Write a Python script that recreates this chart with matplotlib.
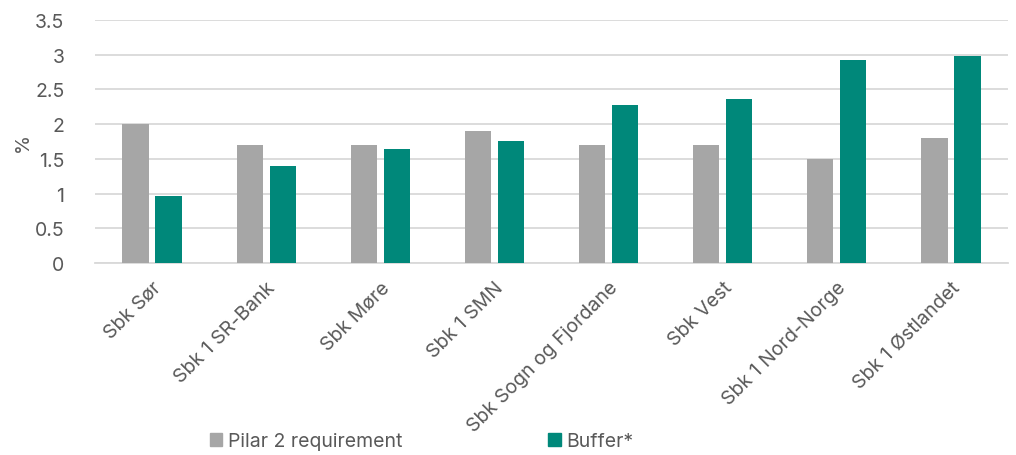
import numpy as np
import matplotlib.pyplot as plt
from matplotlib.patches import Patch

plt.rcParams['font.family'] = ['Inter', 'DejaVu Sans']

banks = ["Sbk Sør", "Sbk 1 SR-Bank", "Sbk Møre", "Sbk 1 SMN",
         "Sbk Sogn og Fjordane", "Sbk Vest", "Sbk 1 Nord-Norge", "Sbk 1 Østlandet"]
pilar2 = [2.0, 1.7, 1.7, 1.9, 1.7, 1.7, 1.5, 1.8]
buffer = [0.96, 1.40, 1.64, 1.76, 2.28, 2.36, 2.92, 2.98]

grey = "#A6A6A6"
teal = "#00887A"
txt = "#595959"
fs = 14

fig = plt.figure(figsize=(10.16, 4.56), dpi=100)
ax = fig.add_axes([95/1016, 1-264/456, 913/1016, 243/456])

x = np.arange(len(banks))
w = 0.23
ax.bar(x - 0.145, pilar2, w, color=grey, zorder=3)
ax.bar(x + 0.145, buffer, w, color=teal, zorder=3)

ax.set_xlim(-0.5, len(banks) - 0.5)
ax.set_ylim(0, 3.5)
ax.set_yticks(np.arange(0, 3.51, 0.5))
ax.set_yticklabels(["0", "0.5", "1", "1.5", "2", "2.5", "3", "3.5"])
ax.yaxis.grid(True, color="#D9D9D9", linewidth=1.3, zorder=0)
for s in ["top", "right", "left"]:
    ax.spines[s].set_visible(False)
ax.spines["bottom"].set_color("#D9D9D9")
ax.spines["bottom"].set_linewidth(1.3)
ax.tick_params(axis="both", length=0, labelsize=fs, colors=txt)
ax.tick_params(axis="y", pad=22)
ax.set_xticks(x)
ax.set_xticklabels(banks, rotation=45, ha="right", rotation_mode="anchor")
ax.tick_params(axis="x", pad=11)
ax.set_ylabel("%", fontsize=fs, color=txt, labelpad=2)

handles = [Patch(color=grey, label="Pilar 2 requirement"),
           Patch(color=teal, label="Buffer*")]
fig.legend(handles=handles, loc="center", bbox_to_anchor=(0.415, 1 - 442/456),
           ncol=2, frameon=False, fontsize=fs, labelcolor=txt,
           handlelength=0.65, handleheight=0.65, handletextpad=0.3, columnspacing=7.5)

fig.savefig("out.png", dpi=100)
